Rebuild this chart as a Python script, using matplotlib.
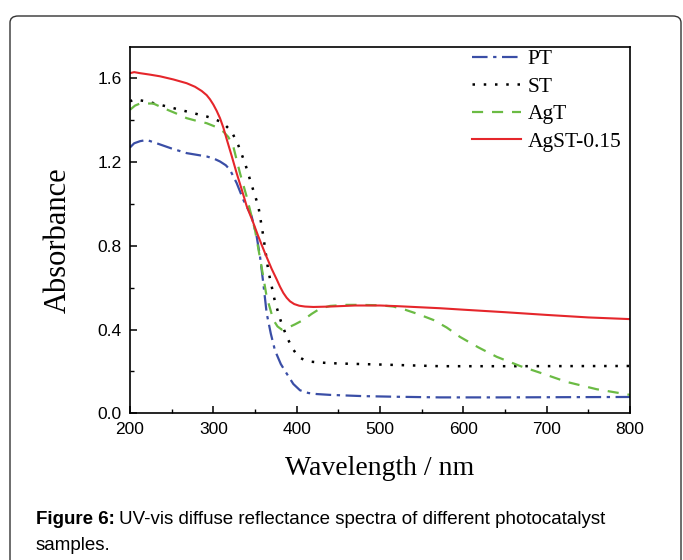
import matplotlib
matplotlib.use("Agg")
import matplotlib.pyplot as plt
from matplotlib.patches import FancyBboxPatch
from matplotlib.ticker import MultipleLocator

# data (wavelength nm, absorbance)
pt_wl = [200, 205, 212, 220, 232, 250, 268, 280, 292, 300, 308, 315, 320, 328, 336, 346,
         352, 356, 360, 364, 369, 374, 381, 388, 396, 404, 414, 424, 440, 480, 520, 572,
         650, 720, 800]
pt_abs = [1.27, 1.29, 1.30, 1.306, 1.29, 1.265, 1.243, 1.235, 1.227, 1.218, 1.203, 1.185,
          1.163, 1.10, 1.02, 0.94, 0.845, 0.75, 0.62, 0.478, 0.38, 0.30, 0.235, 0.19, 0.14,
          0.11, 0.097, 0.092, 0.088, 0.082, 0.079, 0.076, 0.076, 0.077, 0.078]

st_wl = [200, 205, 220, 240, 260, 280, 292, 302, 312, 322, 330, 338, 346, 354, 360, 366,
         374, 381, 388, 395, 402, 409, 416, 430, 450, 500, 572, 650, 800]
st_abs = [1.49, 1.50, 1.49, 1.47, 1.45, 1.43, 1.418, 1.405, 1.386, 1.346, 1.28, 1.195,
          1.09, 0.99, 0.845, 0.68, 0.533, 0.44, 0.366, 0.31, 0.27, 0.255, 0.247, 0.242,
          0.238, 0.233, 0.225, 0.225, 0.226]

agt_wl = [200, 206, 212, 228, 240, 254, 268, 280, 292, 302, 312, 318, 324, 332, 340, 350,
          357, 364, 372, 377, 382, 390, 398, 408, 418, 428, 440, 460, 476, 500, 516, 530,
          545, 564, 580, 596, 618, 640, 668, 695, 724, 760, 800]
agt_abs = [1.45, 1.47, 1.48, 1.48, 1.458, 1.435, 1.41, 1.397, 1.386, 1.37, 1.346, 1.32,
           1.274, 1.147, 1.035, 0.876, 0.72, 0.557, 0.446, 0.415, 0.40, 0.41, 0.425, 0.446,
           0.475, 0.50, 0.513, 0.518, 0.518, 0.516, 0.51, 0.495, 0.475, 0.446, 0.41, 0.365,
           0.315, 0.27, 0.226, 0.19, 0.15, 0.115, 0.088]

agst_wl = [200, 205, 212, 224, 236, 252, 268, 278, 286, 292, 296, 300, 304, 308, 312, 316,
           322, 328, 334, 340, 347, 354, 362, 370, 376, 380, 384, 388, 392, 397, 403, 410,
           420, 440, 470, 500, 520, 572, 600, 650, 700, 750, 800]
agst_abs = [1.625, 1.63, 1.625, 1.618, 1.61, 1.595, 1.577, 1.56, 1.54, 1.52, 1.5, 1.475,
            1.445, 1.41, 1.365, 1.31, 1.23, 1.147, 1.07, 0.99, 0.92, 0.845, 0.765, 0.69,
            0.64, 0.605, 0.575, 0.552, 0.535, 0.522, 0.514, 0.51, 0.508, 0.51, 0.515, 0.515,
            0.512, 0.502, 0.495, 0.483, 0.47, 0.458, 0.45]

fig = plt.figure(figsize=(6.83, 5.6), dpi=100)

# rounded frame around the figure
borde = FancyBboxPatch((10 / 683, -0.05), 671 / 683, 1.05 - 16 / 560,
                       boxstyle="round,pad=0,rounding_size=0.012",
                       transform=fig.transFigure, fill=False, edgecolor="#333333",
                       linewidth=1.0)
fig.patches.append(borde)

ax = fig.add_axes([130 / 683, 1 - 413.3 / 560, 500 / 683, (413.3 - 47) / 560])

ax.plot(pt_wl, pt_abs, color="#3a4ea6", linewidth=1.6,
        linestyle=(0, (7, 2.5, 1.5, 2.5)), label="PT")
ax.plot(st_wl, st_abs, color="black", linewidth=1.8,
        linestyle=(0, (1, 3.5)), label="ST")
ax.plot(agt_wl, agt_abs, color="#6bbb44", linewidth=1.6,
        linestyle=(0, (5, 4)), label="AgT")
ax.plot(agst_wl, agst_abs, color="#e5262b", linewidth=1.5, label="AgST-0.15")

ax.set_xlim(200, 800)
ax.set_ylim(0, 1.75)
ax.xaxis.set_major_locator(MultipleLocator(100))
ax.xaxis.set_minor_locator(MultipleLocator(50))
ax.yaxis.set_major_locator(MultipleLocator(0.4))
ax.yaxis.set_minor_locator(MultipleLocator(0.2))
ax.tick_params(which="both", direction="in", labelsize=12.5)
ax.tick_params(which="major", length=5, width=1.1, pad=6)
ax.tick_params(which="minor", length=3, width=1.0)
for lbl in ax.get_xticklabels() + ax.get_yticklabels():
    lbl.set_fontfamily("Liberation Sans")
for s in ax.spines.values():
    s.set_linewidth(1.2)

ax.set_xlabel("Wavelength / nm", fontfamily="Liberation Serif", fontsize=20, labelpad=14)
ax.set_ylabel("Absorbance", fontfamily="Liberation Serif", fontsize=22)
ax.yaxis.set_label_coords(-0.114, 0.473)

ax.legend(loc="upper right", frameon=False, prop={"family": "Liberation Serif", "size": 15.5},
          handlelength=2.3, labelspacing=0.34, handletextpad=0.3,
          borderaxespad=0.0, bbox_to_anchor=(1.0, 1.017))

# caption
renderer = fig.canvas.get_renderer()
t1 = fig.text(36 / 683, 1 - 519 / 560, "Figure 6:", fontfamily="Liberation Sans",
              fontweight="bold", fontsize=13.5, va="center")
bb = t1.get_window_extent(renderer)
fig.text(bb.x1 / 683 + 4 / 683, 1 - 519 / 560,
         "UV-vis diffuse reflectance spectra of different photocatalyst",
         fontfamily="Liberation Sans", fontsize=13.5, va="center")
fig.text(36 / 683, 1 - 545 / 560, "samples.", fontfamily="Liberation Sans",
         fontsize=13.5, va="center")

fig.savefig("out.png", dpi=100)
